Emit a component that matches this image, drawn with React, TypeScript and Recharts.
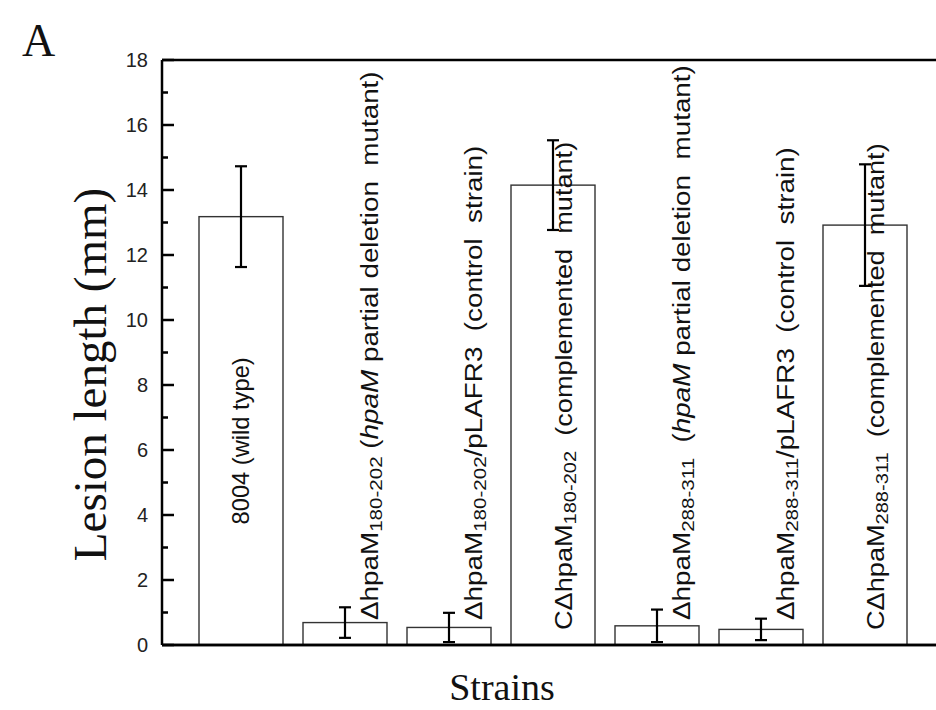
import React from "react";
import { BarChart, Bar, XAxis, YAxis, ErrorBar, ReferenceLine } from "recharts";

const strains = ["8004", "dA", "dA/p", "CdA", "dB", "dB/p", "CdB"];
const lesionLength = [13.18, 0.69, 0.54, 14.15, 0.59, 0.48, 12.92];
const lesionError = [1.55, 0.47, 0.45, 1.38, 0.5, 0.33, 1.87];
const yTicks = [0, 1, 2, 3, 4, 5, 6, 7, 8, 9, 10, 11, 12, 13, 14, 15, 16, 17, 18];

type Seg = { t: string; sub?: boolean; it?: boolean };
const strainLabels: Seg[][] = [
  [{ t: "8004 (wild type)" }],
  [{ t: "ΔhpaM" }, { t: "180-202", sub: true }, { t: " (" }, { t: "hpaM", it: true }, { t: " partial deletion  mutant)" }],
  [{ t: "ΔhpaM" }, { t: "180-202", sub: true }, { t: "/pLAFR3  (control  strain)" }],
  [{ t: "CΔhpaM" }, { t: "180-202", sub: true }, { t: "  (complemented  mutant)" }],
  [{ t: "ΔhpaM" }, { t: "288-311", sub: true }, { t: "  (" }, { t: "hpaM", it: true }, { t: " partial deletion  mutant)" }],
  [{ t: "ΔhpaM" }, { t: "288-311", sub: true }, { t: "/pLAFR3  (control  strain)" }],
  [{ t: "CΔhpaM" }, { t: "288-311", sub: true }, { t: "  (complemented  mutant)" }],
];
const yTitle = "Lesion length (mm)";
const xTitle = "Strains";
const panelLetter = "A";

const data = strains.map((s, i) => ({
  strain: s,
  value: lesionLength[i],
  err: lesionError[i],
}));

const SANS = "'Liberation Sans', Arial, sans-serif";
const SERIF = "'Liberation Serif', 'Times New Roman', serif";

const renderSegs = (segs: Seg[]) => {
  const out: React.ReactNode[] = [];
  let shifted = false;
  segs.forEach((s, k) => {
    if (s.sub) {
      out.push(
        <tspan key={k} fontSize={17} dy={6}>
          {s.t}
        </tspan>
      );
      shifted = true;
    } else {
      out.push(
        <tspan key={k} dy={shifted ? -6 : 0} fontStyle={s.it ? "italic" : "normal"} fontSize={23}>
          {s.t}
        </tspan>
      );
      shifted = false;
    }
  });
  return out;
};

const BarShape = (props: any) => {
  const { x, y, width, height, index, value } = props;
  const bottom = y + height;
  const cx = x + width / 2;
  let tx = cx;
  let ty = bottom - 24;
  let anchor: "start" | "middle" = "start";
  let stretch = 1.21;
  const v = Array.isArray(value) ? value[1] : value;
  if (index === 0) {
    ty = y + height / 2 + 10;
    anchor = "middle";
    stretch = 1.03;
  } else if (v > 5) {
    tx = cx + 11;
    ty = bottom - 15;
    stretch = 1.18;
  } else {
    tx = cx + 25;
    ty = bottom - 25;
  }
  return (
    <g>
      <rect x={x} y={y} width={width} height={height} fill="#fff" stroke="#333" strokeWidth={1.4} />
      <text
        transform={`translate(${tx},${ty}) rotate(-90) scale(${stretch},1)`}
        textAnchor={anchor}
        dominantBaseline="central"
        fontFamily={SANS}
        fontSize={23}
        fill="#111"
        style={{ whiteSpace: "pre" }}
      >
        {renderSegs(strainLabels[index])}
      </text>
    </g>
  );
};

const YTick = (props: any) => {
  const { x, y, payload } = props;
  const v = payload.value;
  const major = v % 2 === 0;
  const ax = x + 14;
  return (
    <g>
      <line x1={ax} x2={ax + (major ? 12 : 6)} y1={y} y2={y} stroke="#000" strokeWidth={2.5} />
      {major && (
        <text x={x} y={y} textAnchor="end" dominantBaseline="central" fontFamily={SANS} fontSize={20} fill="#222">
          {v}
        </text>
      )}
    </g>
  );
};

const XTitle = (p: any) => {
  const vb = p.viewBox || { x: 162, y: 645, width: 774, height: 65 };
  return (
    <text
      x={502}
      y={vb.y + 55}
      textAnchor="middle"
      fontFamily={SERIF}
      fontSize={38}
      fill="#111"
    >
      {xTitle}
    </text>
  );
};

export default function App() {
  return (
    <div style={{ position: "absolute", left: 0, top: 0, width: 936, height: 710, background: "#fff" }}>
      <div
        style={{
          position: "absolute",
          left: 22,
          top: 18,
          fontFamily: SERIF,
          fontSize: 46,
          lineHeight: "46px",
          color: "#111",
        }}
      >
        {panelLetter}
      </div>
      <BarChart
        width={936}
        height={710}
        data={data}
        margin={{ top: 60, right: 0, bottom: 0, left: 0 }}
        barSize={84}
      >
        <XAxis
          dataKey="strain"
          height={65}
          tick={false}
          tickLine={false}
          axisLine={{ stroke: "#000", strokeWidth: 2.5 }}
          padding={{ left: 27, right: 19 }}
          label={<XTitle />}
        />
        <YAxis
          width={162}
          domain={[0, 18]}
          ticks={yTicks}
          interval={0}
          tickSize={0}
          tickMargin={14}
          tickLine={false}
          tick={<YTick />}
          axisLine={{ stroke: "#000", strokeWidth: 2.5 }}
          label={{
            content: (p: any) => {
              const vb = p.viewBox;
              const cy = vb.y + vb.height / 2 + 22;
              return (
                <text
                  transform={`translate(90,${cy}) rotate(-90)`}
                  textAnchor="middle"
                  dominantBaseline="central"
                  fontFamily={SERIF}
                  fontSize={47}
                  fill="#111"
                >
                  {yTitle}
                </text>
              );
            },
          }}
        />
        <ReferenceLine y={18} stroke="#000" strokeWidth={2.5} />
        <ReferenceLine y={0} stroke="#000" strokeWidth={2.5} />
        <Bar dataKey="value" shape={<BarShape />} isAnimationActive={false}>
          <ErrorBar dataKey="err" width={6} strokeWidth={2.2} stroke="#000" direction="y" />
        </Bar>
      </BarChart>
    </div>
  );
}
